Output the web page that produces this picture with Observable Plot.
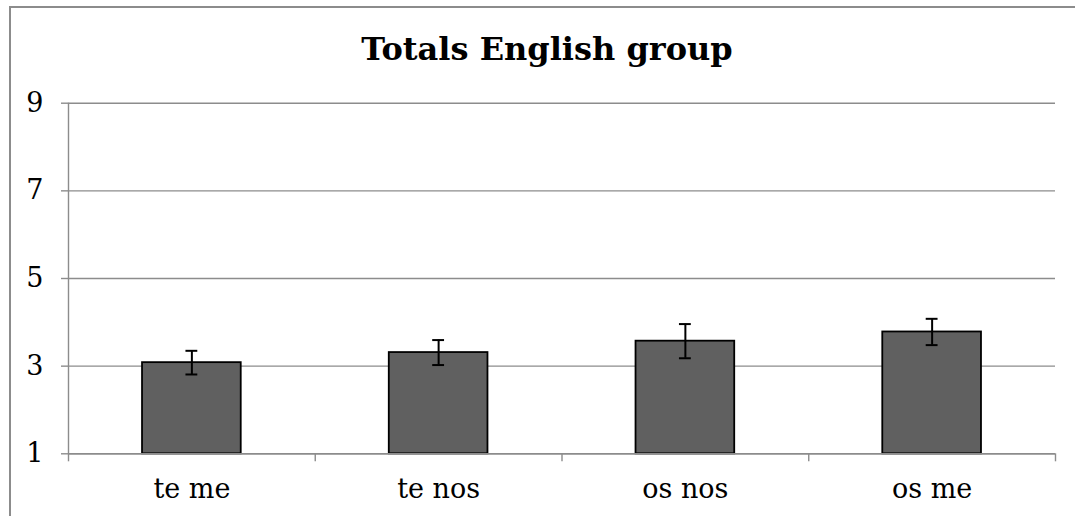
<!DOCTYPE html>
<html>
<head>
<meta charset="utf-8">
<script src="https://cdn.jsdelivr.net/npm/d3@7"></script>
<script src="https://cdn.jsdelivr.net/npm/@observablehq/plot@0.6"></script>
<style>
  html, body { margin: 0; padding: 0; background: #fff; overflow: hidden; }
  body { position: relative; width: 1075px; height: 516px; }
  #frameLeft { position: absolute; left: 9px; top: 6px; width: 2px; height: 510px; background: #8c8c8c; }
  #frameTop { position: absolute; left: 9px; top: 6px; width: 1066px; height: 2px; background: #8c8c8c; }
  #title { width: 1075px; height: 80px; box-sizing: border-box; padding-left: 19px; padding-top: 30px;
           text-align: center; font-family: "DejaVu Serif", serif; font-weight: bold; font-size: 32px;
           line-height: normal; color: #000; }
  #chart svg { display: block; }
</style>
</head>
<body>
<div id="title">Totals English group</div>
<div id="chart"></div>
<div id="frameLeft"></div>
<div id="frameTop"></div>
<script>
const categories = ["te me", "te nos", "os nos", "os me"];
const means = [3.08, 3.31, 3.57, 3.78];
const errors = [0.27, 0.285, 0.39, 0.30];
const yTicks = [1, 3, 5, 7, 9];

const rows = categories.map((c, i) => ({category: c, i, mean: means[i], err: errors[i]}));
const gray = "#8c8c8c";

const chart = Plot.plot({
  width: 1075,
  height: 436,
  marginLeft: 68,
  marginRight: 20,
  marginTop: 22.7,
  marginBottom: 62.7,
  style: {fontFamily: "'DejaVu Serif', serif", fontSize: "27px", color: "black", background: "white"},
  x: {type: "linear", domain: [0, categories.length], label: null},
  y: {domain: [1, 9], label: null},
  marks: [
    Plot.gridY(yTicks, {stroke: gray, strokeOpacity: 1, strokeWidth: 1.4}),
    Plot.axisY(yTicks, {tickSize: 7, tickPadding: 18, stroke: gray, strokeWidth: 1.4, fill: "black", label: null, tickFormat: d => String(d)}),
    Plot.ruleX([0], {y1: 1, y2: 9, stroke: gray, strokeWidth: 1.4}),
    Plot.axisX(d3.range(categories.length + 1), {tickSize: 8, stroke: gray, strokeWidth: 1.4, label: null, tickFormat: () => ""}),
    Plot.axisX(categories.map((c, i) => i + 0.5), {tickSize: 0, tickPadding: 25, fill: "black", label: null,
      tickFormat: d => categories[Math.round(d - 0.5)]}),
    Plot.rectY(rows, {x1: d => d.i + 0.3, x2: d => d.i + 0.7, y1: 1, y2: "mean",
      fill: "#606060", stroke: "black", strokeWidth: 1.8}),
    Plot.ruleY([1], {stroke: gray, strokeWidth: 1.4}),
    Plot.ruleX(rows, {x: d => d.i + 0.5, y1: d => d.mean - d.err, y2: d => d.mean + d.err, stroke: "black", strokeWidth: 2}),
    Plot.ruleY(rows, {y: d => d.mean + d.err, x1: d => d.i + 0.5 - 0.024, x2: d => d.i + 0.5 + 0.024, stroke: "black", strokeWidth: 2}),
    Plot.ruleY(rows, {y: d => d.mean - d.err, x1: d => d.i + 0.5 - 0.024, x2: d => d.i + 0.5 + 0.024, stroke: "black", strokeWidth: 2})
  ]
});
document.getElementById("chart").appendChild(chart);
</script>
</body>
</html>
